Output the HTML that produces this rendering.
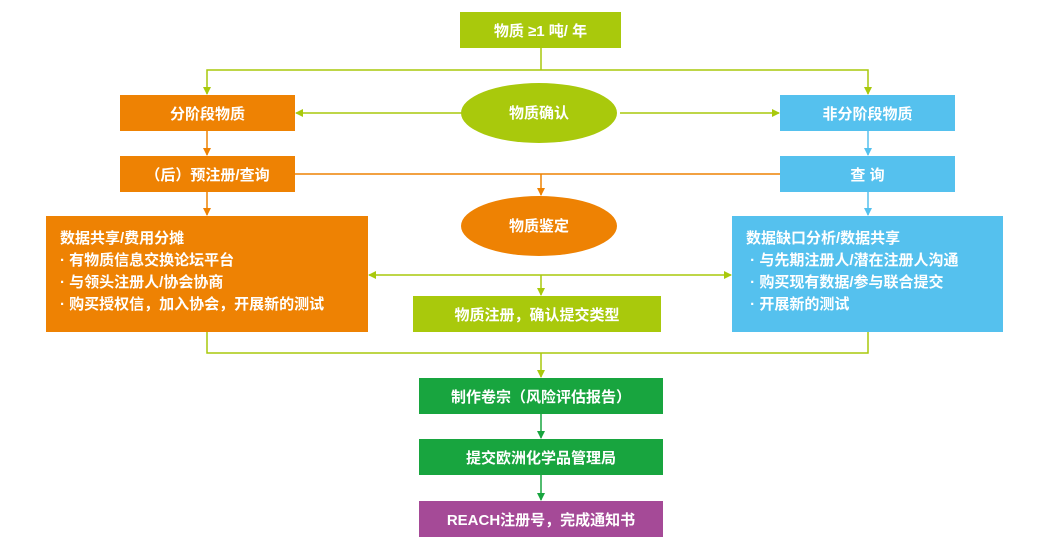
<!DOCTYPE html>
<html><head><meta charset="utf-8"><style>
body{margin:0;width:1057px;height:560px;background:#fff;position:relative;overflow:hidden;font-family:"Liberation Sans","Noto Sans CJK SC",sans-serif;}
.b{position:absolute;color:#fff;font-size:15px;font-weight:bold;display:flex;align-items:center;justify-content:center;}
.l{justify-content:flex-start;align-items:flex-start;flex-direction:column;line-height:22px;padding:12px 0 0 14px;box-sizing:border-box;}
.lime{background:#a9c90c}.or{background:#ee8203}.bl{background:#55c1ee}.gr{background:#18a53f}.pu{background:#a54a97}
svg{position:absolute;left:0;top:0}
</style></head><body>
<svg width="1057" height="560">
<defs>
<marker id="ag" markerWidth="8" markerHeight="8" refX="7" refY="4" orient="auto" markerUnits="userSpaceOnUse"><path d="M0,0L8,4L0,8z" fill="#a9c90c"/></marker>
<marker id="ao" markerWidth="8" markerHeight="8" refX="7" refY="4" orient="auto" markerUnits="userSpaceOnUse"><path d="M0,0L8,4L0,8z" fill="#ee8203"/></marker>
<marker id="ab" markerWidth="8" markerHeight="8" refX="7" refY="4" orient="auto" markerUnits="userSpaceOnUse"><path d="M0,0L8,4L0,8z" fill="#55c1ee"/></marker>
<marker id="an" markerWidth="8" markerHeight="8" refX="7" refY="4" orient="auto" markerUnits="userSpaceOnUse"><path d="M0,0L8,4L0,8z" fill="#18a53f"/></marker>
</defs>
<g fill="none" stroke-width="1.5">
<path d="M541,48V70" stroke="#a9c90c"/>
<path d="M541,70H207V94" stroke="#a9c90c" marker-end="url(#ag)"/>
<path d="M541,70H868V94" stroke="#a9c90c" marker-end="url(#ag)"/>
<path d="M462,113H296" stroke="#a9c90c" marker-end="url(#ag)"/>
<path d="M620,113H779" stroke="#a9c90c" marker-end="url(#ag)"/>
<path d="M207,131V155" stroke="#ee8203" marker-end="url(#ao)"/>
<path d="M207,192V215" stroke="#ee8203" marker-end="url(#ao)"/>
<path d="M295,174H780" stroke="#ee8203"/>
<path d="M541,174V195" stroke="#ee8203" marker-end="url(#ao)"/>
<path d="M868,131V155" stroke="#55c1ee" marker-end="url(#ab)"/>
<path d="M868,192V215" stroke="#55c1ee" marker-end="url(#ab)"/>
<path d="M541,275H369" stroke="#a9c90c" marker-end="url(#ag)"/>
<path d="M541,275H731" stroke="#a9c90c" marker-end="url(#ag)"/>
<path d="M541,275V295" stroke="#a9c90c" marker-end="url(#ag)"/>
<path d="M207,332V353H868V332" stroke="#a9c90c"/>
<path d="M541,353V377" stroke="#a9c90c" marker-end="url(#ag)"/>
<path d="M541,414V438" stroke="#18a53f" marker-end="url(#an)"/>
<path d="M541,475V500" stroke="#18a53f" marker-end="url(#an)"/>
</g>
<ellipse cx="539" cy="113" rx="78" ry="30" fill="#a9c90c"/>
<ellipse cx="539" cy="226" rx="78" ry="30" fill="#ee8203"/>
<text x="539" y="118" text-anchor="middle" fill="#fff" font-size="15" font-weight="bold" font-family="Liberation Sans,Noto Sans CJK SC,sans-serif">物质确认</text>
<text x="539" y="231" text-anchor="middle" fill="#fff" font-size="15" font-weight="bold" font-family="Liberation Sans,Noto Sans CJK SC,sans-serif">物质鉴定</text>
</svg>
<div class="b lime" style="left:460px;top:12px;width:161px;height:36px">物质 ≥1 吨/ 年</div>
<div class="b or" style="left:120px;top:95px;width:175px;height:36px">分阶段物质</div>
<div class="b bl" style="left:780px;top:95px;width:175px;height:36px">非分阶段物质</div>
<div class="b or" style="left:120px;top:156px;width:175px;height:36px">（后）预注册/查询</div>
<div class="b bl" style="left:780px;top:156px;width:175px;height:36px">查 询</div>
<div class="b or l" style="left:46px;top:216px;width:322px;height:116px"><div>数据共享/费用分摊</div><div>· 有物质信息交换论坛平台</div><div>· 与领头注册人/协会协商</div><div>· 购买授权信，加入协会，开展新的测试</div></div>
<div class="b bl l" style="left:732px;top:216px;width:271px;height:116px"><div>数据缺口分析/数据共享</div><div>&nbsp;· 与先期注册人/潜在注册人沟通</div><div>&nbsp;· 购买现有数据/参与联合提交</div><div>&nbsp;· 开展新的测试</div></div>
<div class="b lime" style="left:413px;top:296px;width:248px;height:36px">物质注册，确认提交类型</div>
<div class="b gr" style="left:419px;top:378px;width:244px;height:36px">制作卷宗（风险评估报告）</div>
<div class="b gr" style="left:419px;top:439px;width:244px;height:36px">提交欧洲化学品管理局</div>
<div class="b pu" style="left:419px;top:501px;width:244px;height:36px">REACH注册号，完成通知书</div>
</body></html>
